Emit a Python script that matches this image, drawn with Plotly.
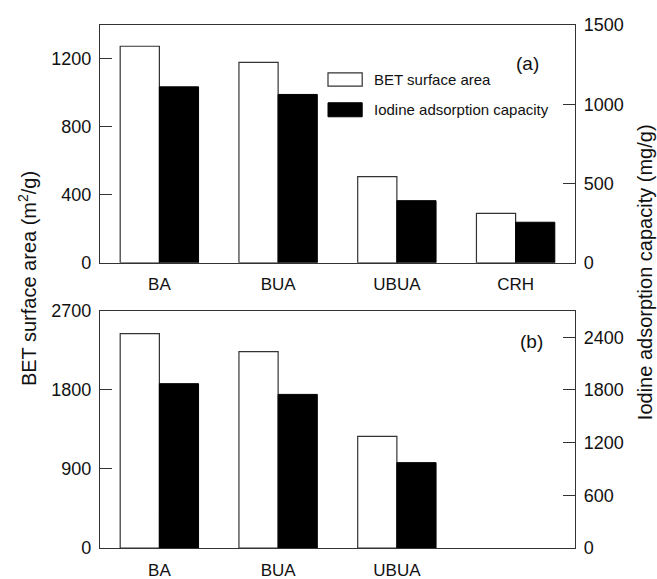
import plotly.graph_objects as go

# ---- data ----
categories = ["BA", "BUA", "UBUA", "CRH"]
bet_a = [1275, 1180, 507, 291]          # m2/g, panel (a)
iodine_a = [1110, 1062, 392, 256]       # mg/g, panel (a)
categories_b = ["BA", "BUA", "UBUA"]
bet_b = [2440, 2235, 1271]              # m2/g, panel (b)
iodine_b = [1871, 1749, 972]            # mg/g, panel (b)

ticks_a_left = [0, 400, 800, 1200]
ticks_a_right = [0, 500, 1000, 1500]
ticks_b_left = [0, 900, 1800, 2700]
ticks_b_right = [0, 600, 1200, 1800, 2400]

FONT = "Liberation Sans, Arial, sans-serif"
LINE = "#333333"
TXT = "#111111"

fig = go.Figure()
bw = 0.33
# panel (a)
fig.add_bar(x=categories, y=bet_a, xaxis="x", yaxis="y", width=bw, offset=-bw,
            marker=dict(color="white", line=dict(color=LINE, width=1.2)),
            name="BET surface area", showlegend=False)
fig.add_bar(x=categories, y=iodine_a, xaxis="x", yaxis="y2", width=bw, offset=0,
            marker=dict(color="black", line=dict(color="black", width=1)),
            name="Iodine adsorption capacity", showlegend=False)
# panel (b)
fig.add_bar(x=categories_b, y=bet_b, xaxis="x2", yaxis="y3", width=bw, offset=-bw,
            marker=dict(color="white", line=dict(color=LINE, width=1.2)),
            name="BET surface area", showlegend=False)
fig.add_bar(x=categories_b, y=iodine_b, xaxis="x2", yaxis="y4", width=bw, offset=0,
            marker=dict(color="black", line=dict(color="black", width=1)),
            name="Iodine adsorption capacity", showlegend=False)

top_dom = [0.5453, 1.0]
bot_dom = [0.0, 0.4534]

common_y = dict(showline=True, linecolor=LINE, linewidth=1.3, ticks="inside",
                ticklen=12, tickwidth=1.2, tickcolor=LINE, showgrid=False,
                zeroline=False, tickfont=dict(family=FONT, size=18, color=TXT),
                ticklabelstandoff=4, tickmode="array", automargin=False)
common_x = dict(type="category", categoryarray=categories, range=[-0.5, 3.5],
                showline=True, linecolor=LINE, linewidth=1.3, mirror=True,
                ticks="", showgrid=False, zeroline=False,
                tickfont=dict(family=FONT, size=17, color=TXT),
                ticklabelstandoff=6, automargin=False)

fig.update_layout(
    width=657, height=579,
    margin=dict(l=100, r=82, t=25, b=31, pad=0, autoexpand=False),
    plot_bgcolor="white", paper_bgcolor="white",
    barmode="overlay",
    xaxis=dict(common_x, domain=[0, 1], anchor="y"),
    yaxis=dict(common_y, domain=top_dom, range=[0, 1400], tickvals=ticks_a_left, anchor="x"),
    yaxis2=dict(common_y, overlaying="y", side="right", range=[0, 1500],
                tickvals=ticks_a_right, anchor="x"),
    xaxis2=dict(common_x, domain=[0, 1], anchor="y3",
                tickmode="array", tickvals=categories_b, ticktext=categories_b),
    yaxis3=dict(common_y, domain=bot_dom, range=[0, 2700], tickvals=ticks_b_left, anchor="x2"),
    yaxis4=dict(common_y, overlaying="y3", side="right", range=[0, 2700],
                tickvals=ticks_b_right, anchor="x2"),
    showlegend=False,
)

# custom legend in panel (a)
fig.add_shape(type="rect", xref="x domain", yref="y domain", x0=0.48, x1=0.552,
              y0=0.743, y1=0.799, fillcolor="white", line=dict(color=LINE, width=1.2))
fig.add_shape(type="rect", xref="x domain", yref="y domain", x0=0.48, x1=0.552,
              y0=0.614, y1=0.673, fillcolor="black", line=dict(color="black", width=1))
fig.add_annotation(xref="x domain", yref="y domain", x=0.572, y=0.771,
                   text="BET surface area", showarrow=False, xanchor="left",
                   yanchor="middle", font=dict(family=FONT, size=15, color=TXT))
fig.add_annotation(xref="x domain", yref="y domain", x=0.572, y=0.645,
                   text="Iodine adsorption capacity", showarrow=False, xanchor="left",
                   yanchor="middle", font=dict(family=FONT, size=15, color=TXT))

# panel labels
fig.add_annotation(xref="x domain", yref="y domain", x=0.901, y=0.838, text="(a)",
                   showarrow=False, xanchor="center", yanchor="middle",
                   font=dict(family=FONT, size=19, color=TXT))
fig.add_annotation(xref="x2 domain", yref="y3 domain", x=0.909, y=0.869, text="(b)",
                   showarrow=False, xanchor="center", yanchor="middle",
                   font=dict(family=FONT, size=19, color=TXT))

# shared axis titles
fig.add_annotation(xref="paper", yref="paper", x=-0.1537, y=0.516,
                   text="BET surface area (m<sup>2</sup>/g)", textangle=-90,
                   showarrow=False, xanchor="center", yanchor="middle",
                   font=dict(family=FONT, size=20, color=TXT))
fig.add_annotation(xref="paper", yref="paper", x=1.149, y=0.527,
                   text="Iodine adsorption capacity (mg/g)", textangle=-90,
                   showarrow=False, xanchor="center", yanchor="middle",
                   font=dict(family=FONT, size=20, color=TXT))

fig.write_html("out.html")
